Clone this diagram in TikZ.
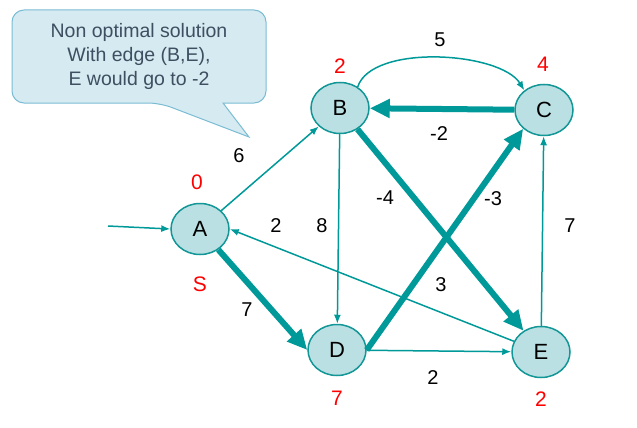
\documentclass[tikz,border=0pt]{standalone}
\usepackage{fontspec}
\setmainfont{Liberation Sans}
\usepackage{xcolor}
\definecolor{gteal}{RGB}{0,153,153}
\definecolor{gnodefill}{RGB}{186,224,228}
\definecolor{gnodeline}{RGB}{18,150,150}
\definecolor{gnotefill}{RGB}{214,234,241}
\definecolor{gnoteline}{RGB}{122,188,211}
\definecolor{gnotetext}{RGB}{61,79,96}
\definecolor{gred}{RGB}{255,0,0}
\usetikzlibrary{arrows.meta,positioning,shapes.geometric}
\tikzset{
  vnode/.style={draw=gnodeline, fill=gnodefill, ellipse, line width=1.5pt,
                minimum width=58pt, minimum height=51pt, inner sep=0pt,
                font=\fontsize{22}{24}\selectfont},
  wlabel/.style={font=\fontsize{20}{24}\selectfont, inner sep=0pt},
  dlabel/.style={font=\fontsize{21}{24}\selectfont, text=gred, inner sep=0pt},
  thinedge/.style={draw=gteal, line width=1.5pt, -{Latex[length=9pt,width=7pt]}},
  thickedge/.style={draw=gteal, line width=6pt, -{Triangle[length=20pt,width=18pt]}},
}
\begin{document}
\begin{tikzpicture}[x=1pt, y=-1pt]
\useasboundingbox (0,0) rectangle (637,428);

% Vertices
\node[vnode] (A) at (200,229) {A};
\node[vnode] (B) at (340,108) {B};
\node[vnode] (C) at (544,110) {C};
\node[vnode] (D) at (337,350) {D};
\node[vnode] (E) at (541,352) {E};
\coordinate (start) at (108,226);

% Distances
\node[dlabel] (dA) at (197,182) {0};
\node[dlabel] (sA) at (200,284) {S};
\node[dlabel] (dB) at (340,66) {2};
\node[dlabel] (dC) at (543,64) {4};
\node[dlabel] (dD) at (337,398) {7};
\node[dlabel] (dE) at (541,399) {2};

% Thin edges
\draw[thinedge] (start) -- (A.west);
\draw[thinedge] (A) -- (B);
\draw[thinedge] (B.50) to[out=72, in=122, looseness=0.7] (C.135);
\draw[thinedge] (B) -- (D);
\draw[thinedge] (E) -- (A.east);
\draw[thinedge] (D) -- (E);
\draw[thinedge] (E) -- (C);

% Thick edges
\draw[thickedge] (C) -- (B);
\draw[thickedge] (B) -- (E);
\draw[thickedge] (D.east) -- (C.222);
\draw[thickedge] (A) -- (D.west);

% Weights
\node[wlabel] (wAB) at (239,156) {6};
\node[wlabel] (wBC) at (440,40) {5};
\node[wlabel] (wCB) at (439,134) {-2};
\node[wlabel] (wBE) at (385,198) {-4};
\node[wlabel] (wBD) at (322,226) {8};
\node[wlabel] (wEA) at (276,226) {2};
\node[wlabel] (wDC) at (493,199) {-3};
\node[wlabel] (wEC) at (570,226) {7};
\node[wlabel] (wED) at (441,285) {3};
\node[wlabel] (wAD) at (247,310) {7};
\node[wlabel] (wDE) at (433,378) {2};

% Note
\draw[draw=gnoteline, fill=gnotefill, line width=1pt, rounded corners=12pt]
  (223,103) -- (266,103) -- (266,10) -- (12,10) -- (12,103)
  -- (160,103) [sharp corners] -- (249,137) -- cycle;
\node[align=center, text=gnotetext, font=\fontsize{19.5}{24}\selectfont]
      (note) at (139,56.5)
      {Non optimal solution\\With edge (B,E),\\E would go to -2};

\end{tikzpicture}
\end{document}
